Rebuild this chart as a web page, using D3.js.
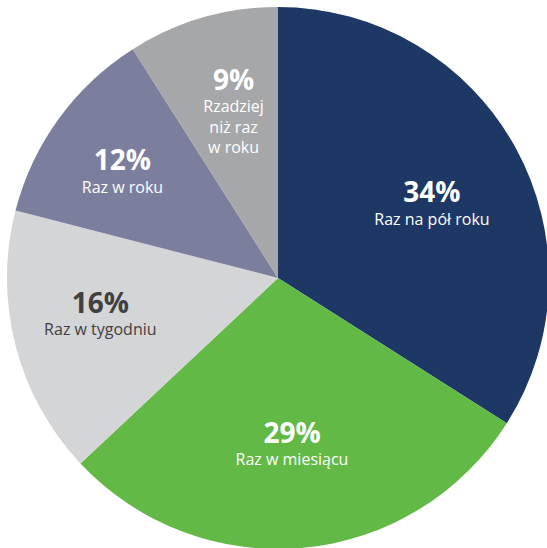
<!DOCTYPE html>
<html>
<head>
<meta charset="utf-8">
<script src="https://cdn.jsdelivr.net/npm/d3@7"></script>
<style>
  html, body { margin: 0; padding: 0; background: #ffffff; }
  svg { display: block; }
</style>
</head>
<body>
<svg id="chart" width="547" height="548"></svg>
<script>
// Frequency shares, clockwise from 12 o'clock
const categories = ["Raz na pół roku", "Raz w miesiącu", "Raz w tygodniu", "Raz w roku", "Rzadziej niż raz w roku"];
const values = [34, 29, 16, 12, 9];
const labelLines = [["Raz na pół roku"], ["Raz w miesiącu"], ["Raz w tygodniu"], ["Raz w roku"], ["Rzadziej", "niż raz", "w roku"]];
const colors = ["#1e3865", "#62b946", "#d4d5d7", "#7c7e9d", "#a6a7a9"];
const textColors = ["#ffffff", "#ffffff", "#404040", "#ffffff", "#ffffff"];

// Layout: small per-slice nudges of the label block away from the arc centroid
const labelNudge = [[5, 10], [-2, -1], [-13, -4], [-18, -4.5], [3, -1]];

const svg = d3.select("#chart");
const cx = 278, cy = 278, radius = 271;
const g = svg.append("g").attr("transform", `translate(${cx},${cy})`);

const pie = d3.pie().sort(null).value(d => d);
const arcs = pie(values);
const arc = d3.arc().innerRadius(0).outerRadius(radius);
const labelArc = d3.arc().innerRadius(170).outerRadius(170);

g.selectAll("path.slice")
  .data(arcs)
  .join("path")
  .attr("class", "slice")
  .attr("d", arc)
  .attr("fill", (d, i) => colors[i]);

const font = "'Open Sans', 'Liberation Sans', sans-serif";
const pctSize = 28, catSize = 16, catLine = 20.5, pctGap = 27;

arcs.forEach((d, i) => {
  const c = labelArc.centroid(d);
  const x = c[0] + labelNudge[i][0];
  const y = c[1] + labelNudge[i][1];
  const lines = labelLines[i];
  const blockH = pctGap + (lines.length - 1) * catLine;
  const top = y - blockH / 2;
  const lg = g.append("g").attr("fill", textColors[i]).attr("text-anchor", "middle").style("font-family", font);
  lg.append("text")
    .attr("x", x).attr("y", top)
    .attr("dy", "0.35em")
    .style("font-size", pctSize + "px")
    .style("font-weight", "bold")
    .text(values[i] + "%");
  lines.forEach((t, j) => {
    lg.append("text")
      .attr("x", x).attr("y", top + pctGap + j * catLine)
      .attr("dy", "0.35em")
      .style("font-size", catSize + "px")
      .text(t);
  });
});
</script>
</body>
</html>
